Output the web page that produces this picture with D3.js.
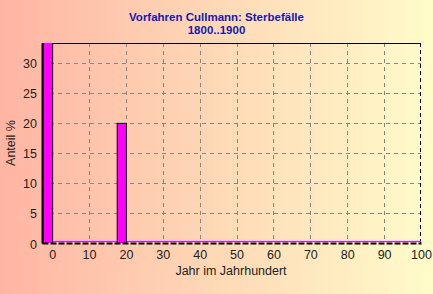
<!DOCTYPE html>
<html>
<head>
<meta charset="utf-8">
<script src="https://cdn.jsdelivr.net/npm/d3@7"></script>
<style>
  body { margin: 0; }
  svg { display: block; font-family: Arial, "Liberation Sans", sans-serif; }
</style>
</head>
<body>
<svg width="433" height="294"></svg>
<script>
// data
const titleLines = ["Vorfahren Cullmann: Sterbefälle", "1800..1900"];
const years = [0, 20];          // Jahr im Jahrhundert
const shares = [80, 20];        // Anteil % (first bar runs off the top)
const xTicks = [0, 10, 20, 30, 40, 50, 60, 70, 80, 90, 100];
const yTicks = [0, 5, 10, 15, 20, 25, 30];

function draw() {
    const svg = d3.select("svg"),
        width = +svg.attr("width"),
        height = +svg.attr("height");

    const m = { left: 42, right: 12, top: 43, bottom: 51 };
    const iw = width - m.left - m.right,
        ih = height - m.top - m.bottom;

    // background gradient
    const grad = svg.append("defs").append("linearGradient")
        .attr("id", "bg").attr("x1", 0).attr("x2", 1).attr("y1", 0).attr("y2", 0);
    grad.append("stop").attr("offset", 0).attr("stop-color", "#ffb5a3");
    grad.append("stop").attr("offset", 1).attr("stop-color", "#fffcca");
    svg.select("defs").append("clipPath").attr("id", "clip")
        .append("rect").attr("width", iw).attr("height", ih);

    svg.append("rect").attr("width", width).attr("height", height).attr("fill", "url(#bg)");

    const x = d3.scaleLinear().domain([-2.75, 100]).range([0, iw]);
    const y = d3.scaleLinear().domain([0, 33.3]).range([ih, 0]);

    const g = svg.append("g").attr("transform", `translate(${m.left},${m.top})`);

    // grid
    g.append("g").selectAll("line")
        .data(xTicks.filter(d => d > 0 && d < 100))
        .enter().append("line")
        .attr("x1", d => Math.round(x(d)) + 0.5).attr("x2", d => Math.round(x(d)) + 0.5)
        .attr("y1", 0).attr("y2", ih)
        .attr("stroke", "#8f837c").attr("stroke-dasharray", "4,4");
    g.append("g").selectAll("line")
        .data(yTicks.filter(d => d > 0))
        .enter().append("line")
        .attr("y1", d => Math.round(y(d)) + 0.5).attr("y2", d => Math.round(y(d)) + 0.5)
        .attr("x1", 0).attr("x2", iw)
        .attr("stroke", "#8f837c").attr("stroke-dasharray", "4,4");

    // frame top + right
    g.append("line").attr("x1", 0).attr("x2", iw).attr("y1", 0.5).attr("y2", 0.5)
        .attr("stroke", "#000");
    g.append("line").attr("x1", iw - 0.5).attr("x2", iw - 0.5).attr("y1", 0).attr("y2", ih)
        .attr("stroke", "#000").attr("stroke-dasharray", "4,3");

    // magenta zero line of empty years
    g.append("line").attr("x1", x(0)).attr("x2", x(100)).attr("y1", ih - 1.5).attr("y2", ih - 1.5)
        .attr("stroke", "#ff00ff").attr("stroke-width", 1);

    // bars
    g.append("g").attr("clip-path", "url(#clip)").selectAll("rect")
        .data(years)
        .enter().append("rect")
        .attr("x", d => x(d - 2.5) + 0.5)
        .attr("width", d => x(d) - x(d - 2.5))
        .attr("y", (d, i) => y(shares[i]) + 0.5)
        .attr("height", (d, i) => y(0) - y(shares[i]))
        .attr("fill", "#ff00ff").attr("stroke", "#000");

    // axes
    const xAxis = g.append("g").attr("transform", `translate(0,${ih})`)
        .call(d3.axisBottom(x).tickValues(xTicks).tickSize(0).tickPadding(7));
    const yAxis = g.append("g")
        .call(d3.axisLeft(y).tickValues(yTicks).tickSize(0).tickPadding(5));
    [xAxis, yAxis].forEach(a => {
        a.select(".domain").attr("stroke", "#000").attr("stroke-width", 2);
        a.selectAll("text").attr("font-size", 12.5).attr("fill", "#222")
            .attr("font-family", "Arial, 'Liberation Sans', sans-serif");
    });
    yAxis.selectAll("text").attr("dy", "0.4em");
    xAxis.select(".domain").attr("stroke-dasharray", "6,2");

    // labels
    svg.append("text").attr("x", 231).attr("y", 275)
        .attr("text-anchor", "middle").attr("font-size", 12.5).attr("fill", "#222")
        .text("Jahr im Jahrhundert");
    svg.append("text").attr("transform", `translate(15,${m.top + ih / 2}) rotate(-90)`)
        .attr("text-anchor", "middle").attr("font-size", 12.5).attr("fill", "#222")
        .text("Anteil %");

    svg.append("g").selectAll("text")
        .data(titleLines)
        .enter().append("text")
        .attr("x", width / 2).attr("y", (d, i) => 21 + i * 13)
        .attr("text-anchor", "middle").attr("font-size", 11.5).attr("font-weight", "bold")
        .attr("fill", "#1818b0")
        .text(d => d);
}

document.addEventListener('DOMContentLoaded', function() {
    draw();
});
</script>
</body>
</html>
